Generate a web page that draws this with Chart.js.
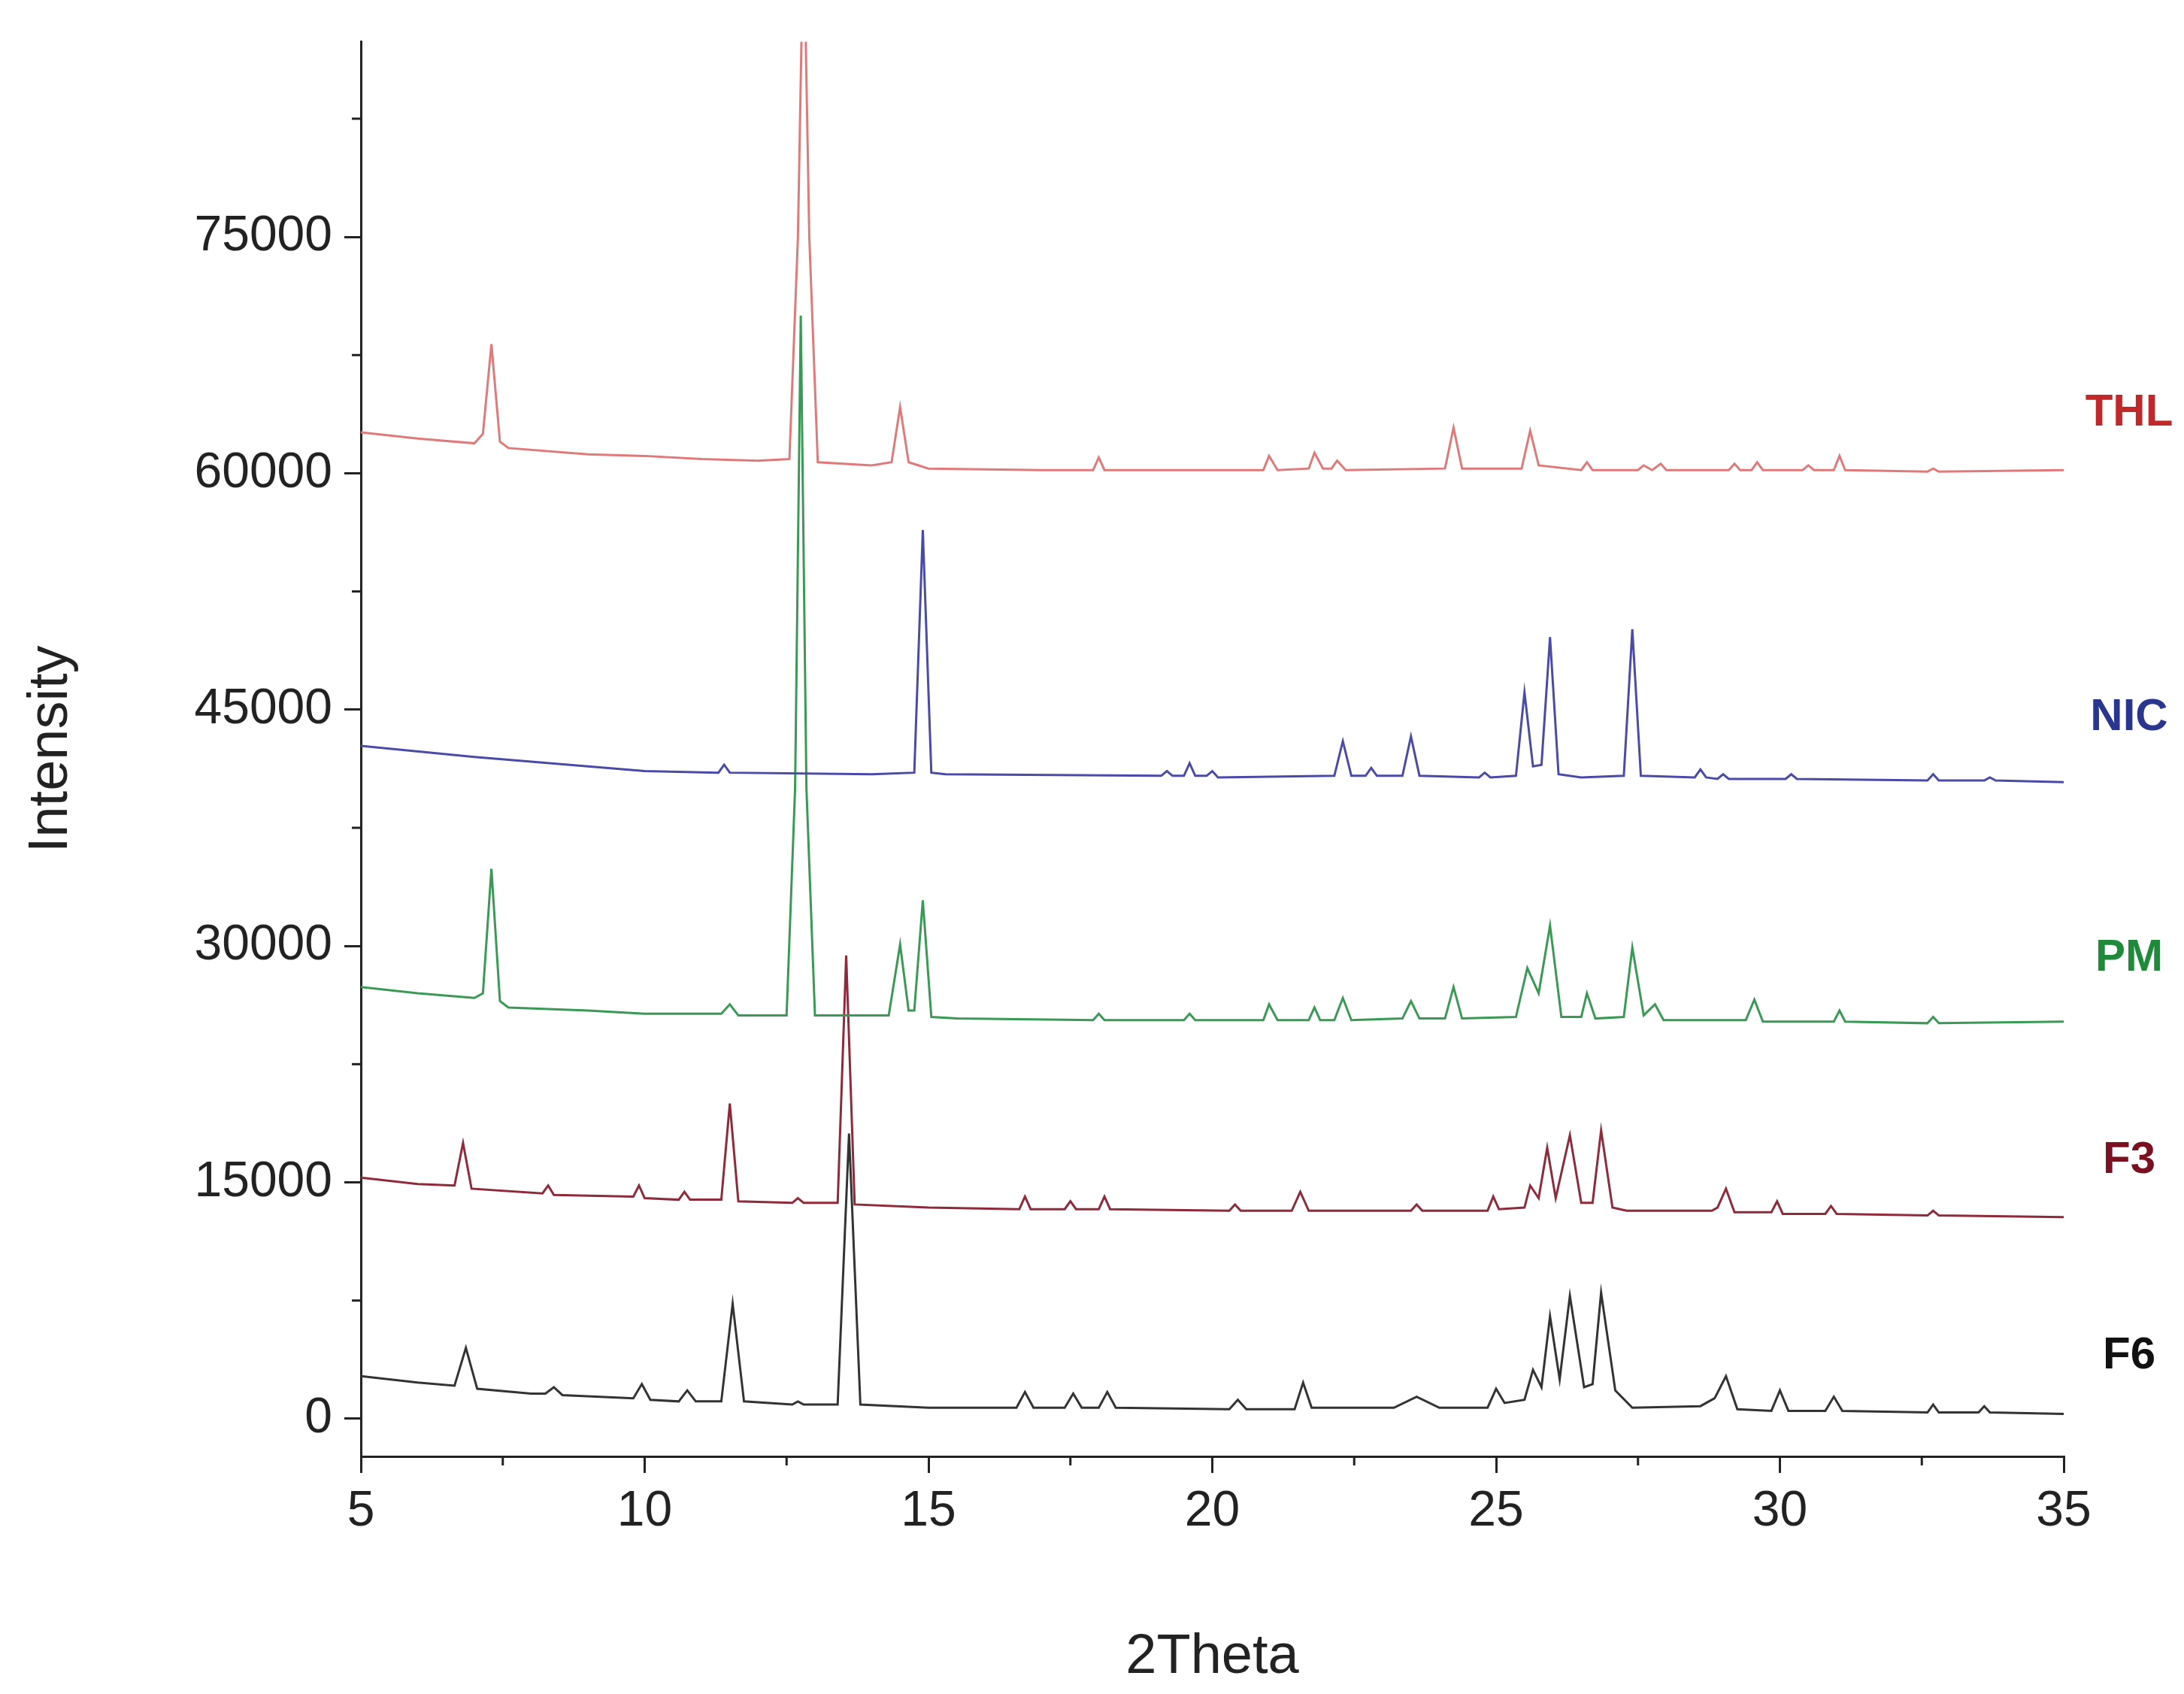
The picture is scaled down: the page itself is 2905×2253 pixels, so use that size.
<!DOCTYPE html>
<html><head><meta charset="utf-8">
<script src="https://cdn.jsdelivr.net/npm/chart.js@4"></script>
<style>html,body{margin:0;padding:0;background:#fff}</style>
</head><body>
<canvas id="c" width="2905" height="2253"></canvas>
<script>
const seriesNames = ["THL","NIC","PM","F3","F6"];
const lineColors = ["#e07a7a","#4a4aa8","#3a9a55","#8e2a3a","#333333"];
const labelColors = ["#c0282a","#2a3590","#1e8a3a","#7a1020","#111111"];
const labelValues = [63800,44500,29200,16400,4000];
const xTicks = [5,10,15,20,25,30,35];
const yTicks = [0,15000,30000,45000,60000,75000];

const THL = [[5,62600],[6,62200],[7,61900],[7.15,62500],[7.3,68200],[7.45,62000],[7.6,61600],[9,61200],[10,61100],[11,60900],[12,60800],[12.55,60900],[12.7,75000],[12.8,95000],[12.9,75000],[13.05,60700],[14,60500],[14.35,60700],[14.5,64200],[14.65,60700],[15,60300],[17,60200],[17.9,60200],[18,61000],[18.1,60200],[20.9,60200],[21,61100],[21.15,60200],[21.7,60300],[21.8,61300],[21.95,60300],[22.1,60300],[22.2,60800],[22.35,60200],[24.1,60300],[24.25,62900],[24.4,60300],[25.45,60300],[25.6,62700],[25.75,60500],[26.5,60200],[26.6,60700],[26.7,60200],[27.5,60200],[27.6,60500],[27.75,60200],[27.9,60600],[28,60200],[29.1,60200],[29.2,60600],[29.3,60200],[29.5,60200],[29.6,60700],[29.7,60200],[30.4,60200],[30.5,60500],[30.6,60200],[30.95,60200],[31.05,61100],[31.15,60200],[32.6,60100],[32.7,60300],[32.8,60100],[35,60200]];
const NIC = [[5,42700],[7,42000],[9,41400],[10,41100],[11.3,41000],[11.4,41500],[11.5,41000],[14,40900],[14.75,41000],[14.9,56400],[15.05,41000],[15.3,40900],[19.1,40800],[19.2,41100],[19.3,40800],[19.5,40800],[19.6,41600],[19.7,40800],[19.9,40800],[20,41100],[20.1,40700],[22.15,40800],[22.3,43000],[22.45,40800],[22.7,40800],[22.8,41300],[22.9,40800],[23.35,40800],[23.5,43300],[23.65,40800],[24.7,40700],[24.8,41000],[24.9,40700],[25.35,40800],[25.5,46100],[25.65,41400],[25.8,41500],[25.95,49600],[26.1,40900],[26.5,40700],[27.25,40800],[27.4,50100],[27.55,40800],[28.5,40700],[28.6,41200],[28.7,40700],[28.9,40600],[29,40900],[29.1,40600],[30.1,40600],[30.2,40900],[30.3,40600],[32.6,40500],[32.7,40900],[32.8,40500],[33.6,40500],[33.7,40700],[33.8,40500],[35,40400]];
const PM = [[5,27400],[6,27000],[7,26700],[7.15,27000],[7.3,34900],[7.45,26500],[7.6,26100],[9,25900],[10,25700],[11.35,25700],[11.5,26300],[11.65,25600],[12.5,25600],[12.65,40000],[12.75,70000],[12.85,40000],[13,25600],[14.3,25600],[14.5,30100],[14.65,25900],[14.75,25900],[14.9,32900],[15.05,25500],[15.5,25400],[17.9,25300],[18,25700],[18.1,25300],[19.5,25300],[19.6,25700],[19.7,25300],[20.9,25300],[21,26300],[21.15,25300],[21.7,25300],[21.8,26100],[21.9,25300],[22.15,25300],[22.3,26700],[22.45,25300],[23.35,25400],[23.5,26500],[23.65,25400],[24.1,25400],[24.25,27400],[24.4,25400],[25.35,25500],[25.55,28600],[25.75,27000],[25.95,31300],[26.15,25500],[26.5,25500],[26.6,27000],[26.75,25400],[27.25,25500],[27.4,29900],[27.6,25600],[27.8,26300],[27.95,25300],[29.4,25300],[29.55,26600],[29.7,25200],[30.95,25200],[31.05,25900],[31.15,25200],[32.6,25100],[32.7,25500],[32.8,25100],[35,25200]];
const F3 = [[5,15300],[6,14900],[6.65,14800],[6.8,17500],[6.95,14600],[8.2,14300],[8.3,14800],[8.4,14200],[9.8,14100],[9.9,14800],[10,14000],[10.6,13900],[10.7,14400],[10.8,13900],[11.35,13900],[11.5,20000],[11.65,13800],[12.6,13700],[12.7,14000],[12.8,13700],[13.4,13700],[13.55,29400],[13.7,13600],[15,13400],[16.6,13300],[16.7,14100],[16.8,13300],[17.4,13300],[17.5,13800],[17.6,13300],[18,13300],[18.1,14100],[18.2,13300],[20.3,13200],[20.4,13600],[20.5,13200],[21.4,13200],[21.55,14400],[21.7,13200],[23.5,13200],[23.6,13600],[23.7,13200],[24.85,13200],[24.95,14100],[25.05,13300],[25.5,13400],[25.6,14800],[25.75,14000],[25.9,17200],[26.05,14000],[26.3,18000],[26.5,13700],[26.7,13700],[26.85,18300],[27.05,13400],[27.3,13200],[28.8,13200],[28.9,13400],[29.05,14600],[29.2,13100],[29.85,13100],[29.95,13800],[30.05,13000],[30.8,13000],[30.9,13500],[31,13000],[32.6,12900],[32.7,13200],[32.8,12900],[35,12800]];
const F6 = [[5,2700],[6,2300],[6.65,2100],[6.85,4500],[7.05,1900],[8,1600],[8.25,1600],[8.4,2000],[8.55,1500],[9.8,1300],[9.95,2200],[10.1,1200],[10.6,1100],[10.75,1800],[10.9,1100],[11.35,1100],[11.55,7300],[11.75,1100],[12.6,900],[12.7,1100],[12.8,900],[13.4,900],[13.6,18100],[13.8,900],[15,700],[16.55,700],[16.7,1700],[16.85,700],[17.4,700],[17.55,1600],[17.7,700],[18,700],[18.15,1700],[18.3,700],[20.3,600],[20.45,1200],[20.6,600],[21.45,600],[21.6,2300],[21.75,700],[23.2,700],[23.6,1400],[24,700],[24.85,700],[25,1900],[25.15,1000],[25.5,1200],[25.65,3100],[25.8,2000],[25.95,6500],[26.12,2500],[26.3,7800],[26.55,2000],[26.7,2200],[26.85,8000],[27.1,1800],[27.4,700],[28.6,800],[28.85,1300],[29.05,2700],[29.25,600],[29.85,500],[30,1800],[30.15,500],[30.8,500],[30.95,1400],[31.1,500],[32.6,400],[32.7,900],[32.8,400],[33.5,400],[33.6,800],[33.7,400],[35,300]];
const allData = [THL,NIC,PM,F3,F6];

const labelPlugin = {
  id:'labels',
  afterDatasetsDraw(chart){
    const ctx=chart.ctx, y=chart.scales.y;
    ctx.save();
    ctx.font='bold 60px "Liberation Sans", Arial, sans-serif';
    ctx.textAlign='center'; ctx.textBaseline='middle';
    seriesNames.forEach((n,i)=>{ctx.fillStyle=labelColors[i];ctx.fillText(n,2832,y.getPixelForValue(labelValues[i]));});
    ctx.strokeStyle='#222'; ctx.lineWidth=3;
    const xs=chart.scales.x;
    for(let i=0;i<xTicks.length-1;i++){const v=(xTicks[i]+xTicks[i+1])/2;const px=xs.getPixelForValue(v);ctx.beginPath();ctx.moveTo(px,xs.top);ctx.lineTo(px,xs.top+12);ctx.stroke();}
    for(let i=0;i<yTicks.length;i++){const v=yTicks[i]+7500;const py=y.getPixelForValue(v);if(py<y.top)continue;ctx.beginPath();ctx.moveTo(y.right,py);ctx.lineTo(y.right-12,py);ctx.stroke();}
    ctx.restore();
  }
};

new Chart(document.getElementById('c'),{
  type:'line',
  data:{datasets:allData.map((d,i)=>({label:seriesNames[i],data:d.map(p=>({x:p[0],y:p[1]})),borderColor:lineColors[i],borderWidth:3,pointRadius:0,tension:0,fill:false}))},
  options:{
    responsive:false,animation:false,devicePixelRatio:1,
    layout:{padding:{top:47,right:160,left:20,bottom:0}},
    plugins:{legend:{display:false},tooltip:{enabled:false}},
    scales:{
      x:{type:'linear',min:5,max:35,
        afterBuildTicks:s=>{s.ticks=xTicks.map(v=>({value:v}));},
        afterFit:s=>{s.height=316;},
        grid:{drawOnChartArea:false,drawTicks:true,tickLength:22,color:'#222',lineWidth:3},
        border:{color:'#222',width:3},
        ticks:{color:'#222',font:{size:66,family:'"Liberation Sans", Arial'},padding:12,callback:v=>String(v)},
        title:{display:true,text:'2Theta',color:'#222',font:{size:74,family:'"Liberation Sans", Arial'},padding:{top:30}}},
      y:{type:'linear',min:-2390,max:87380,
        afterBuildTicks:s=>{s.ticks=yTicks.map(v=>({value:v}));},
        afterFit:s=>{s.width=460;},
        grid:{drawOnChartArea:false,drawTicks:true,tickLength:22,color:'#222',lineWidth:3},
        border:{color:'#222',width:3},
        ticks:{color:'#222',font:{size:66,family:'"Liberation Sans", Arial'},padding:16,callback:v=>String(v)},
        title:{display:true,text:'Intensity',color:'#222',font:{size:74,family:'"Liberation Sans", Arial'},padding:{bottom:50}}}
    }
  },
  plugins:[labelPlugin]
});
</script>
</body></html>
